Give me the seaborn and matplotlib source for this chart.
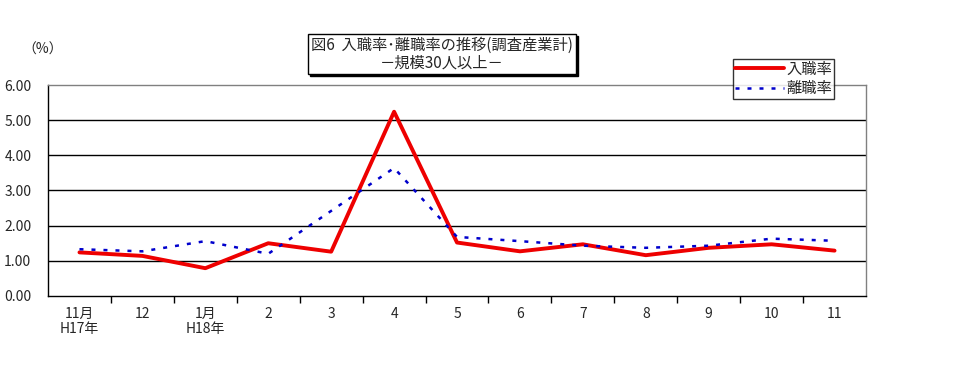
import pandas as pd
import matplotlib.pyplot as plt
import matplotlib.patches as mpatches
import seaborn as sns

# 月ラベルと各系列の値（%）
months = ['11月\nH17年', '12', '1月\nH18年', '2', '3', '4', '5', '6', '7', '8', '9', '10', '11']
nyushoku = [1.24, 1.14, 0.79, 1.50, 1.26, 5.24, 1.52, 1.27, 1.47, 1.16, 1.37, 1.47, 1.29]
rishoku = [1.33, 1.27, 1.56, 1.20, 2.42, 3.64, 1.68, 1.56, 1.43, 1.37, 1.43, 1.63, 1.57]

sns.set_style('white')
plt.rcParams['font.family'] = ['Noto Sans CJK JP', 'DejaVu Sans']

df = pd.DataFrame({'pos': list(range(len(months))) * 2,
                   'rate': nyushoku + rishoku,
                   'series': ['入職率'] * len(months) + ['離職率'] * len(months)})

fig = plt.figure(figsize=(9.66, 3.74), dpi=100)
ax = fig.add_axes([0.0497, 0.2086, 0.8468, 0.5641])

sns.lineplot(data=df[df['series'] == '入職率'], x='pos', y='rate', color='#ee0000',
             linewidth=2.8, ax=ax, label='入職率')
sns.lineplot(data=df[df['series'] == '離職率'], x='pos', y='rate', color='#0000cc',
             linewidth=1.8, linestyle=(0, (1.6, 3.2)), ax=ax, label='離職率')

ax.set_xlim(-0.5, len(months) - 0.5)
ax.set_ylim(0, 6)
ax.set_yticks([0, 1, 2, 3, 4, 5, 6])
ax.set_yticklabels([f'{v:.2f}' for v in range(7)], fontsize=10)
for v in range(1, 6):
    ax.axhline(v, color='black', linewidth=1, zorder=0)

# 目盛りは区切り位置、ラベルは中央
ax.set_xticks([i + 0.5 for i in range(len(months) - 1)])
ax.set_xticklabels([])
ax.set_xticks(range(len(months)), minor=True)
ax.set_xticklabels(months, minor=True, fontsize=10, linespacing=1.05)
ax.tick_params(axis='x', which='major', length=5, width=1, color='black', direction='out', bottom=True)
ax.tick_params(axis='x', which='minor', length=0, pad=8)
ax.tick_params(axis='y', length=0, pad=12)
ax.set_xlabel('')
ax.set_ylabel('')

for side in ['left', 'bottom']:
    ax.spines[side].set_color('black')
    ax.spines[side].set_linewidth(1)
for side in ['top', 'right']:
    ax.spines[side].set_color('#808080')
    ax.spines[side].set_linewidth(1)

ax.get_legend().remove()
leg = fig.legend(loc='upper left', bbox_to_anchor=(733 / 966, 1 - 59 / 374), fontsize=11,
                 frameon=True, fancybox=False, handlelength=3.2, borderpad=0.12,
                 labelspacing=0.15, handletextpad=0.2, borderaxespad=0)
leg.get_frame().set_edgecolor('black')
leg.get_frame().set_linewidth(1)

# タイトル（影付きの枠）
title = fig.text(442 / 966, 1 - 54 / 374, '図6  入職率･離職率の推移(調査産業計)\n－規模30人以上－',
                 ha='center', va='center', fontsize=11, linespacing=1.05, zorder=5,
                 bbox=dict(boxstyle='square,pad=0.2', facecolor='white', edgecolor='black', linewidth=1))
fig.canvas.draw()
bb = title.get_bbox_patch().get_window_extent()
fig.patches.append(mpatches.Rectangle((bb.x0 + 2, bb.y0 - 2), bb.width, bb.height,
                                      transform=None, facecolor='black', edgecolor='black',
                                      zorder=4, figure=fig))
fig.text(22 / 966, 1 - 50 / 374, '（%）', fontsize=10, va='center')

plt.savefig('out.png', dpi=100)
